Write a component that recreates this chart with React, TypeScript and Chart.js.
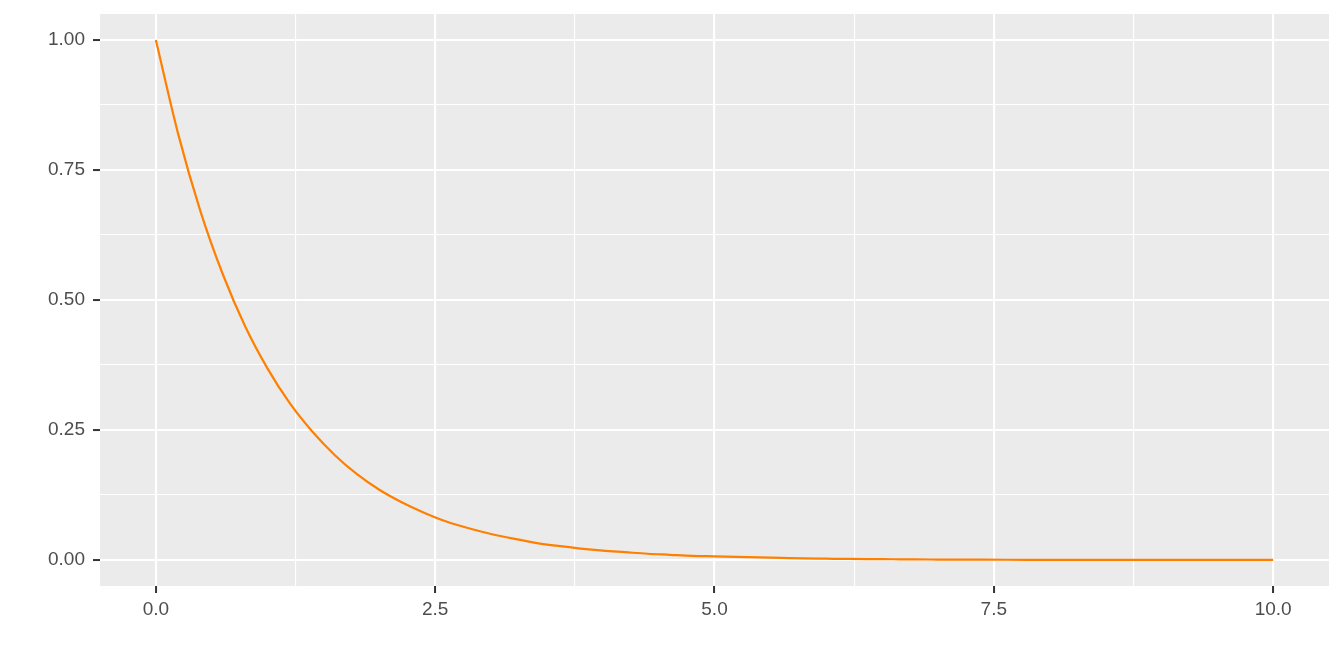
import React, { useEffect, useRef } from "react";
import { Chart, registerables } from "chart.js";

Chart.register(...registerables);

const xValues = [
  0, 0.2, 0.4, 0.6, 0.8, 1.0, 1.2, 1.4, 1.6, 1.8,
  2.0, 2.2, 2.4, 2.6, 2.8, 3.0, 3.2, 3.4, 3.6, 3.8,
  4.0, 4.2, 4.4, 4.6, 4.8, 5.0, 5.2, 5.4, 5.6, 5.8,
  6.0, 6.2, 6.4, 6.6, 6.8, 7.0, 7.2, 7.4, 7.6, 7.8,
  8.0, 8.2, 8.4, 8.6, 8.8, 9.0, 9.2, 9.4, 9.6, 9.8, 10.0,
];
const yValues = [
  1.0, 0.819, 0.67, 0.549, 0.449, 0.368, 0.301, 0.247, 0.202, 0.165,
  0.135, 0.111, 0.091, 0.074, 0.061, 0.05, 0.041, 0.033, 0.027, 0.022,
  0.018, 0.015, 0.012, 0.01, 0.008, 0.007, 0.006, 0.005, 0.004, 0.003,
  0.0025, 0.002, 0.0017, 0.0014, 0.0011, 0.0009, 0.0007, 0.0006, 0.0005, 0.0004,
  0.0003, 0.0003, 0.0002, 0.0002, 0.0002, 0.0001, 0.0001, 0.0001, 0.0001, 0.0001, 0.0001,
];
const xTicks = [0, 1.25, 2.5, 3.75, 5, 6.25, 7.5, 8.75, 10];
const xMajor = [0, 2.5, 5, 7.5, 10];
const yTicks = [0, 0.125, 0.25, 0.375, 0.5, 0.625, 0.75, 0.875, 1];
const yMajor = [0, 0.25, 0.5, 0.75, 1];

const isMajor = (list: number[], v: number) => list.some((m) => Math.abs(m - v) < 1e-9);

const panelBg = {
  id: "panelBg",
  beforeDraw(chart: any) {
    const { ctx, chartArea } = chart;
    ctx.save();
    ctx.fillStyle = "#EBEBEB";
    ctx.fillRect(chartArea.left, chartArea.top, chartArea.right - chartArea.left, chartArea.bottom - chartArea.top);
    ctx.restore();
  },
};

export default function App() {
  const ref = useRef<HTMLCanvasElement | null>(null);
  useEffect(() => {
    if (!ref.current) return;
    const font = { family: "'Liberation Sans', Arial, sans-serif", size: 19 };
    const chart = new Chart(ref.current, {
      type: "line",
      data: {
        datasets: [
          {
            data: xValues.map((x, i) => ({ x, y: yValues[i] })),
            borderColor: "#FF7F00",
            borderWidth: 2.2,
            pointRadius: 0,
            cubicInterpolationMode: "monotone",
            fill: false,
          },
        ],
      },
      options: {
        responsive: false,
        animation: false,
        layout: { padding: { top: 14, right: 15, left: 0, bottom: 0 } },
        plugins: { legend: { display: false }, tooltip: { enabled: false } },
        scales: {
          x: {
            type: "linear",
            min: -0.5,
            max: 10.5,
            afterBuildTicks: (s: any) => {
              s.ticks = xTicks.map((v) => ({ value: v }));
            },
            afterFit: (s: any) => {
              s.height = 86;
              s.paddingLeft = 0;
              s.paddingRight = 0;
            },
            border: { display: false },
            grid: {
              color: "#FFFFFF",
              lineWidth: (c: any) => (isMajor(xMajor, c.tick?.value) ? 2.1 : 1.1),
              tickColor: (c: any) => (isMajor(xMajor, c.tick?.value) ? "#333333" : "rgba(0,0,0,0)"),
              tickWidth: 2,
              tickLength: 7,
            },
            ticks: {
              autoSkip: false,
              maxRotation: 0,
              color: "#4D4D4D",
              font,
              padding: 5,
              callback: (v: any) => (isMajor(xMajor, Number(v)) ? Number(v).toFixed(1) : ""),
            },
          },
          y: {
            type: "linear",
            min: -0.05,
            max: 1.05,
            afterBuildTicks: (s: any) => {
              s.ticks = yTicks.map((v) => ({ value: v }));
            },
            afterFit: (s: any) => {
              s.width = 100;
              s.paddingTop = 0;
              s.paddingBottom = 0;
            },
            border: { display: false },
            grid: {
              color: "#FFFFFF",
              lineWidth: (c: any) => (isMajor(yMajor, c.tick?.value) ? 2.1 : 1.1),
              tickColor: (c: any) => (isMajor(yMajor, c.tick?.value) ? "#333333" : "rgba(0,0,0,0)"),
              tickWidth: 2,
              tickLength: 7,
            },
            ticks: {
              autoSkip: false,
              color: "#4D4D4D",
              font,
              padding: 8,
              callback: (v: any) => (isMajor(yMajor, Number(v)) ? Number(v).toFixed(2) : ""),
            },
          },
        },
      },
      plugins: [panelBg],
    } as any);
    return () => chart.destroy();
  }, []);
  return (
    <div style={{ position: "absolute", left: 0, top: 0, width: 1344, height: 672, background: "#FFFFFF" }}>
      <canvas ref={ref} width={1344} height={672} style={{ display: "block" }} />
    </div>
  );
}
